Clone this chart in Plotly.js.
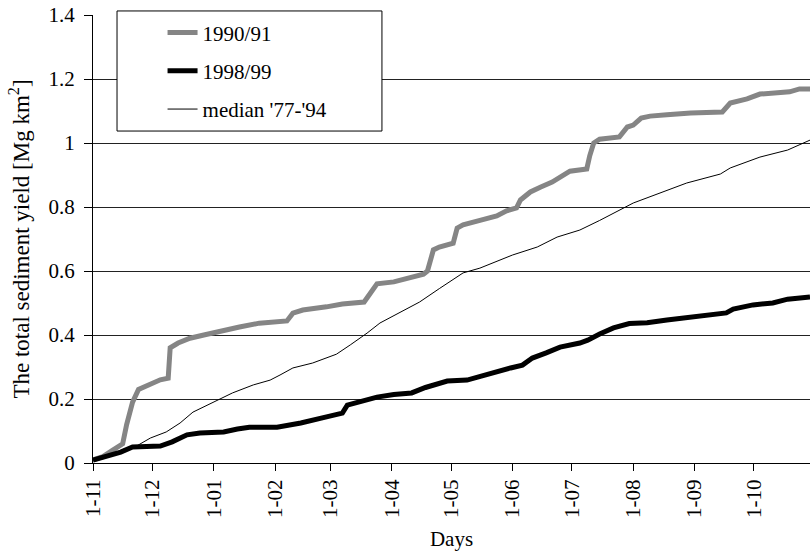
<!DOCTYPE html>
<html><head><meta charset="utf-8">
<script src="https://cdn.plot.ly/plotly-3.0.1.min.js"></script>
<style>html,body{margin:0;padding:0;background:#fff}</style>
</head><body><div id="chart" style="width:810px;height:557px"></div>
<script>
// Tick labels (day-of-hydrological-year for each month start, Nov 1 = day 0)
const tickDays = [0, 30, 61, 92, 120, 151, 181, 212, 242, 273, 304, 334];
const tickLabels = ['1-11','1-12','1-01','1-02','1-03','1-04','1-05','1-06','1-07','1-08','1-09','1-10'];

// 1990/91
const days9091 = [0,5,10,15,17,20,23,28,34,38,39,43,49,56,66,74,84,98,101,106,118,126,137,141,143.5,152,159,167,169,172,175,182,184,187,196,204,209,214,216,221,226,232,241,249.5,251,253,256,266,270,273,277,281.5,290,302,318,322,330.5,337,352,357,362.3];
const yield9091 = [0.01,0.02,0.04,0.06,0.12,0.19,0.23,0.244,0.26,0.265,0.36,0.375,0.39,0.40,0.415,0.425,0.437,0.444,0.468,0.478,0.488,0.497,0.503,0.54,0.56,0.566,0.578,0.59,0.60,0.666,0.675,0.687,0.734,0.744,0.759,0.772,0.788,0.797,0.822,0.847,0.862,0.878,0.912,0.919,0.96,1.0,1.012,1.019,1.05,1.056,1.078,1.084,1.088,1.094,1.097,1.125,1.138,1.153,1.16,1.169,1.169];

// 1998/99
const days9899 = [0,5,10,14,20,34,40,47.5,54,66,73,79,93,105,118,126,128.5,133.5,143.5,152,161,168,179,189,196,211,217,222,229,236,246,250,256,263,271,280,290,307,320,323.5,333.5,343.5,351,362.3];
const yield9899 = [0.009,0.019,0.025,0.034,0.05,0.053,0.066,0.088,0.094,0.097,0.106,0.112,0.112,0.125,0.144,0.156,0.181,0.19,0.206,0.214,0.219,0.236,0.256,0.259,0.272,0.297,0.306,0.328,0.344,0.362,0.375,0.384,0.403,0.422,0.436,0.438,0.447,0.459,0.469,0.481,0.494,0.5,0.512,0.519];

// median '77-'94
const daysMedian = [0,15,22,29,37,44,50.5,60.5,70.5,81,89.5,94.5,101,111,123,130,138.5,145,155,165,175,187,195.5,212,224.5,234.5,246,256,273,290,300,317,322,337,351,362.3];
const yieldMedian = [0.01,0.034,0.053,0.078,0.097,0.125,0.159,0.19,0.219,0.244,0.259,0.275,0.297,0.3125,0.34,0.369,0.406,0.4375,0.469,0.503,0.545,0.594,0.609,0.65,0.675,0.706,0.728,0.758,0.8125,0.853,0.875,0.903,0.922,0.956,0.978,1.009];

const FONT = '"Liberation Serif", "Times New Roman", serif';

const traces = [
  {x: days9091, y: yield9091, name: '1990/91', mode: 'lines', legendgroup: 'a',
   line: {color: '#858585', width: 5}},
  {x: days9899, y: yield9899, name: '1998/99', mode: 'lines', legendgroup: 'b',
   line: {color: '#000000', width: 5}},
  {x: daysMedian, y: yieldMedian, name: "median '77-'94", mode: 'lines', legendgroup: 'c',
   line: {color: '#000000', width: 1}}
];

const layout = {
  width: 810, height: 557,
  margin: {l: 93, r: 0, t: 15, b: 94},
  paper_bgcolor: '#ffffff', plot_bgcolor: '#ffffff',
  font: {family: FONT, size: 21, color: '#000'},
  showlegend: true,
  legend: {
    x: 0.097, y: 1.006, xanchor: 'left', yanchor: 'top',
    bgcolor: 'rgba(0,0,0,0)', borderwidth: 0,
    font: {family: FONT, size: 21, color: '#000'},
    traceorder: 'grouped', tracegroupgap: 8
  },
  xaxis: {
    range: [0, 362.3], tickmode: 'array', tickvals: tickDays, ticktext: tickLabels,
    tickangle: -90, ticks: 'outside', ticklen: 7, tickcolor: '#000', tickwidth: 1,
    showline: true, linecolor: '#000', linewidth: 1, showgrid: false, zeroline: false,
    tickfont: {family: FONT, size: 21, color: '#000'},
    title: {text: 'Days', font: {family: FONT, size: 21, color: '#000'}, standoff: 14},
    fixedrange: true
  },
  yaxis: {
    range: [0, 1.4], dtick: 0.2, tick0: 0,
    ticks: 'outside', ticklen: 8, tickcolor: '#000', tickwidth: 1,
    ticklabelstandoff: 5,
    showline: true, linecolor: '#000', linewidth: 1,
    showgrid: true, gridcolor: '#222', gridwidth: 1, zeroline: false,
    tickfont: {family: FONT, size: 21, color: '#000'},
    title: {text: 'The total sediment yield [Mg km<sup>2</sup>]', font: {family: FONT, size: 23, color: '#000'}, standoff: 12},
    fixedrange: true
  },
  shapes: [
    {type: 'rect', xref: 'paper', yref: 'paper', x0: 0.0335, x1: 0.403, y0: 0.741, y1: 1.009,
     fillcolor: '#ffffff', line: {color: '#000', width: 1}, layer: 'above'}
  ]
};

Plotly.newPlot('chart', traces, layout, {displayModeBar: false, staticPlot: true});
</script>
</body></html>
